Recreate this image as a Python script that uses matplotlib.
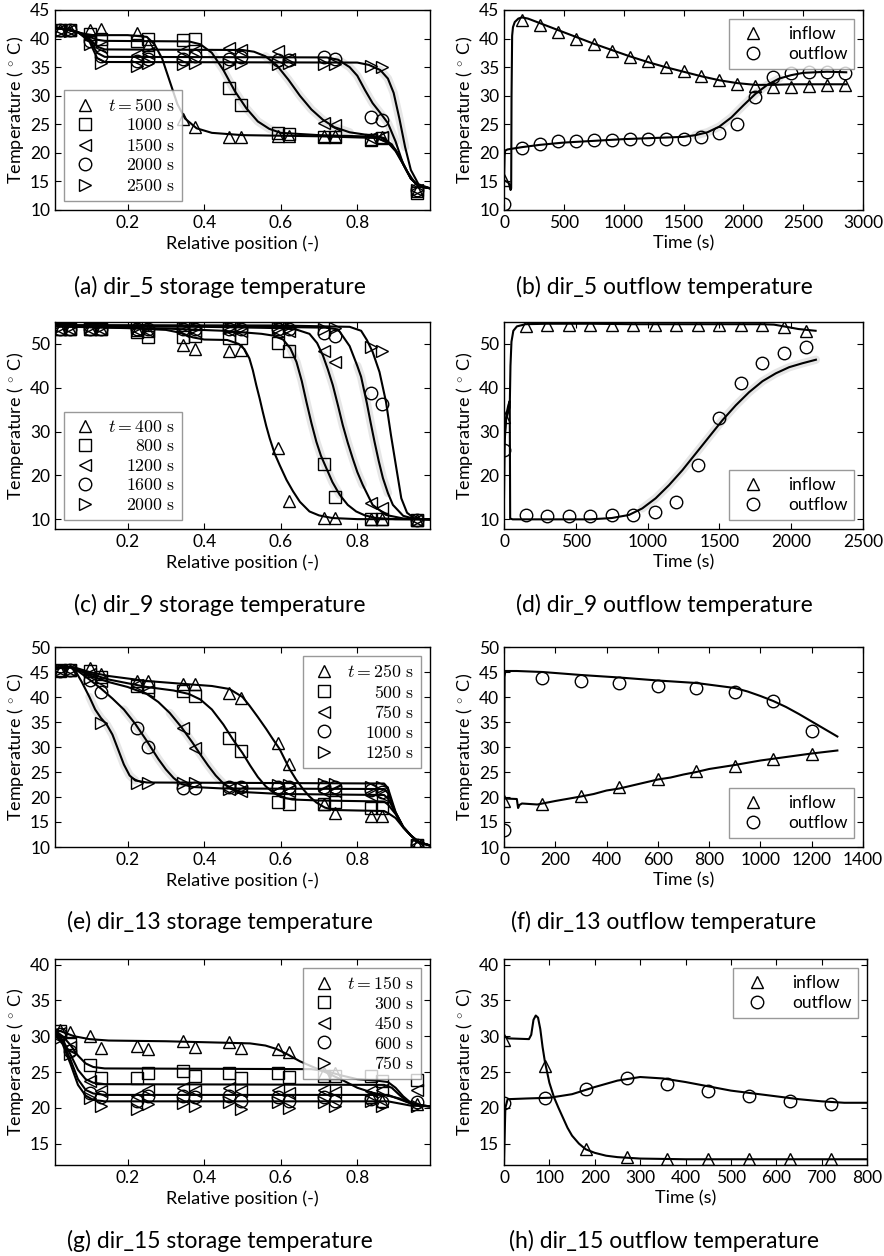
"""
Storage / outflow temperature comparison, 4 test runs (dir_5, dir_9, dir_13, dir_15).
Markers = measurements, black lines = simulation, light grey = uncertainty band.
"""
import matplotlib
matplotlib.use("Agg")
import matplotlib.pyplot as plt

OUT = "out.png"
W_PX, H_PX = 884, 1256

plt.rcParams.update({
    "font.family": ["Lato", "DejaVu Sans"],
    "mathtext.fontset": "cm",
    "font.size": 13,
    "xtick.labelsize": 12.5,
    "ytick.labelsize": 12.5,
    "xtick.direction": "in",
    "ytick.direction": "in",
    "xtick.top": True,
    "ytick.right": True,
    "xtick.major.size": 4,
    "ytick.major.size": 4,
    "axes.linewidth": 1.0,
    "axes.labelpad": 3,
    "legend.fancybox": False,
    "legend.edgecolor": "0.5",
    "legend.framealpha": 0.8,
    "legend.numpoints": 1,
})

MARKERS = ["^", "s", "<", "o", ">"]
YLABEL = r"Temperature ($\,^\circ\,$C)"

# ---------------------------------------------------------------- data
SENSOR_X = [0.022, 0.049, 0.101, 0.131, 0.224, 0.253, 0.344, 0.375, 0.466,
            0.497, 0.592, 0.621, 0.714, 0.743, 0.836, 0.864, 0.957]

# dir_5 storage
A_TIMES = [500, 1000, 1500, 2000, 2500]
A_MEAS = [
    [41.5, 41.5, 41.5, 41.6, 40.9, 38.9, 26.0, 24.6, 22.8, 22.8, 23.0, 23.0, 22.9, 22.9, 22.5, 22.7, 13.3],
    [41.5, 41.5, 40.8, 40.0, 39.5, 40.0, 39.7, 40.0, 31.4, 28.4, 23.5, 23.3, 22.8, 22.8, 22.3, 22.6, 13.0],
    [41.5, 41.5, 40.0, 38.5, 37.2, 37.5, 37.8, 37.8, 38.3, 38.0, 37.9, 36.5, 25.2, 24.8, 22.6, 22.8, 13.5],
    [41.5, 41.5, 39.5, 37.0, 36.0, 36.5, 36.5, 37.0, 36.5, 36.7, 36.3, 36.3, 36.8, 36.5, 26.3, 25.8, 13.5],
    [41.3, 41.3, 39.0, 35.8, 35.2, 35.7, 35.5, 35.7, 35.5, 35.7, 35.6, 35.8, 35.5, 35.6, 35.2, 35.1, 13.5],
]
A_LINE_X = [
    [0.01, 0.04, 0.07, 0.09, 0.11, 0.13, 0.2, 0.25, 0.27, 0.29, 0.31, 0.33, 0.35, 0.38, 0.42, 0.5, 0.7,
     0.85, 0.88, 0.9, 0.92, 0.94, 0.96, 0.99],
    [0.01, 0.04, 0.07, 0.1, 0.12, 0.14, 0.36, 0.39, 0.42, 0.45, 0.48, 0.51, 0.54, 0.57, 0.6, 0.7, 0.86,
     0.89, 0.91, 0.93, 0.95, 0.97, 0.99],
    [0.01, 0.04, 0.07, 0.1, 0.12, 0.14, 0.5, 0.53, 0.56, 0.59, 0.62, 0.65, 0.68, 0.71, 0.74, 0.78, 0.83,
     0.87, 0.9, 0.92, 0.94, 0.96, 0.99],
    [0.01, 0.04, 0.07, 0.1, 0.12, 0.14, 0.72, 0.75, 0.78, 0.8, 0.82, 0.84, 0.86, 0.88, 0.9, 0.92, 0.94,
     0.96, 0.99],
    [0.01, 0.04, 0.07, 0.1, 0.12, 0.14, 0.8, 0.83, 0.86, 0.88, 0.895, 0.91, 0.925, 0.94, 0.96, 0.99],
]
A_LINE_T = [
    [41.9, 41.6, 41.1, 40.8, 40.6, 40.6, 40.6, 40.3, 39.0, 36.5, 32.5, 28.5, 26.0, 24.3, 23.5, 23.1, 22.9,
     22.6, 21.8, 20.3, 18.0, 15.5, 14.2, 13.8],
    [41.9, 41.6, 41.1, 40.3, 39.8, 39.6, 39.5, 39.0, 37.5, 34.5, 30.8, 27.8, 25.5, 24.2, 23.5, 23.1, 22.8,
     21.5, 19.5, 16.8, 14.8, 14.0, 13.8],
    [41.9, 41.6, 41.1, 40.0, 38.6, 38.1, 38.0, 37.7, 36.9, 35.3, 32.8, 30.0, 27.6, 25.8, 24.5, 23.6, 23.1,
     22.6, 20.5, 18.0, 15.5, 14.2, 13.8],
    [41.9, 41.6, 41.1, 39.8, 37.5, 36.8, 36.7, 36.3, 35.0, 33.5, 31.0, 28.7, 27.0, 25.2, 22.0, 18.0, 15.5,
     14.2, 13.8],
    [41.9, 41.6, 41.1, 39.5, 36.6, 35.9, 35.8, 35.4, 34.5, 33.0, 30.5, 26.0, 21.0, 17.0, 14.5, 13.8],
]
A_BAND = [None, (0.42, 0.6), (0.56, 0.8), (0.74, 0.9), (0.85, 0.93)]

# dir_9 storage
C_TIMES = [400, 800, 1200, 1600, 2000]
C_MEAS = [
    [53.5, 53.5, 53.5, 53.5, 53.2, 53.0, 49.8, 48.9, 48.5, 48.7, 26.2, 14.1, 10.3, 10.3, 10.0, 10.0, 9.8],
    [53.3, 53.3, 53.3, 53.3, 52.8, 51.6, 51.6, 51.8, 51.3, 51.3, 50.1, 48.4, 22.6, 15.2, 10.0, 10.0, 9.8],
    [53.5, 53.5, 53.5, 53.5, 53.2, 53.0, 53.0, 53.0, 53.2, 53.0, 53.0, 52.9, 48.3, 45.9, 13.7, 12.6, 9.8],
    [53.5, 53.5, 53.5, 53.5, 53.5, 53.5, 53.3, 53.3, 53.5, 53.5, 53.3, 53.3, 52.4, 51.8, 38.7, 36.4, 9.8],
    [53.8, 53.8, 53.8, 53.8, 53.8, 53.8, 53.6, 53.6, 53.6, 53.6, 53.6, 53.6, 53.5, 53.6, 49.3, 48.4, 9.8],
]
C_LINE_X = [
    [0.01, 0.2, 0.3, 0.34, 0.37, 0.4, 0.46, 0.49, 0.505, 0.518, 0.527, 0.536, 0.545, 0.553, 0.562, 0.571,
     0.584, 0.597, 0.615, 0.632, 0.65, 0.675, 0.7, 0.735, 0.8, 0.99],
    [0.01, 0.3, 0.45, 0.55, 0.58, 0.606, 0.625, 0.641, 0.655, 0.667, 0.68, 0.693, 0.705, 0.719, 0.735,
     0.754, 0.775, 0.797, 0.82, 0.849, 0.9, 0.99],
    [0.01, 0.4, 0.6, 0.64, 0.675, 0.695, 0.71, 0.723, 0.736, 0.75, 0.762, 0.775, 0.788, 0.8, 0.814,
     0.84, 0.875, 0.92, 0.99],
    [0.01, 0.5, 0.72, 0.75, 0.78, 0.8, 0.81, 0.825, 0.835, 0.845, 0.856, 0.867, 0.88, 0.893, 0.92,
     0.95, 0.99],
    [0.01, 0.6, 0.78, 0.81, 0.825, 0.84, 0.858, 0.875, 0.888, 0.902, 0.915, 0.93, 0.95, 0.99],
]
C_LINE_T = [
    [54.0, 53.6, 53.2, 52.5, 51.5, 51.0, 50.9, 50.0, 48.8, 46.7, 44.0, 40.6, 37.5, 34.5, 31.3, 28.5,
     25.0, 22.4, 19.0, 16.4, 14.0, 11.8, 10.9, 10.3, 10.05, 10.0],
    [54.0, 53.5, 53.0, 52.3, 51.9, 51.0, 49.0, 45.9, 41.5, 36.8, 32.0, 27.7, 24.5, 21.7, 18.5,
     15.6, 13.3, 11.8, 10.9, 10.3, 10.05, 10.0],
    [54.1, 53.9, 53.6, 53.3, 52.3, 50.2, 47.4, 44.2, 40.6, 35.8, 31.5, 27.5, 23.9, 20.8, 17.9,
     13.3, 11.0, 10.2, 10.0],
    [54.2, 54.0, 53.7, 53.3, 49.5, 45.0, 42.5, 36.5, 32.0, 27.7, 23.3, 19.4, 16.0, 13.3, 10.8,
     10.1, 10.0],
    [54.3, 54.2, 53.9, 53.0, 50.9, 48.2, 43.6, 36.8, 29.2, 21.7, 14.8, 11.5, 10.2, 10.0],
]
C_BAND = [None, (0.62, 0.76), (0.7, 0.83), (0.79, 0.88), None]

# dir_13 storage
E_TIMES = [250, 500, 750, 1000, 1250]
E_MEAS = [
    [45.3, 45.5, 45.9, 44.6, 43.3, 43.3, 42.6, 42.6, 40.9, 39.9, 30.9, 26.6, 18.6, 16.8, 16.3, 16.3, 10.5],
    [45.5, 45.5, 45.3, 44.0, 42.3, 42.0, 41.3, 40.3, 31.9, 29.3, 19.1, 18.6, 18.6, 19.0, 17.8, 17.8, 10.5],
    [45.5, 45.5, 44.6, 43.3, 42.5, 41.3, 33.9, 29.9, 21.6, 21.3, 21.3, 21.3, 21.3, 21.3, 20.5, 20.5, 10.5],
    [45.3, 45.5, 43.5, 41.0, 33.9, 30.1, 21.8, 21.8, 22.0, 22.0, 22.0, 22.0, 22.0, 22.0, 21.5, 21.0, 10.5],
    [45.5, 45.5, 43.8, 34.9, 22.9, 22.9, 22.9, 22.9, 21.7, 21.8, 22.4, 22.4, 22.6, 22.7, 22.0, 22.0, 10.5],
]
E_LINE_X = [
    [0.01, 0.05, 0.07, 0.1, 0.15, 0.25, 0.35, 0.42, 0.466, 0.5, 0.518, 0.54, 0.562, 0.58, 0.597, 0.61,
     0.623, 0.64, 0.658, 0.675, 0.693, 0.715, 0.736, 0.8, 0.87, 0.88, 0.9, 0.92, 0.94, 0.96, 0.99],
    [0.01, 0.05, 0.07, 0.1, 0.15, 0.25, 0.32, 0.36, 0.39, 0.42, 0.45, 0.475, 0.5, 0.52, 0.54, 0.56,
     0.58, 0.6, 0.63, 0.7, 0.87, 0.88, 0.9, 0.92, 0.94, 0.96, 0.99],
    [0.01, 0.05, 0.07, 0.1, 0.15, 0.2, 0.25, 0.28, 0.31, 0.34, 0.37, 0.39, 0.41, 0.43, 0.45, 0.47,
     0.5, 0.6, 0.87, 0.88, 0.9, 0.92, 0.94, 0.96, 0.99],
    [0.01, 0.05, 0.07, 0.1, 0.13, 0.16, 0.19, 0.22, 0.25, 0.28, 0.3, 0.32, 0.34, 0.37, 0.45, 0.87,
     0.88, 0.9, 0.92, 0.94, 0.96, 0.99],
    [0.01, 0.05, 0.065, 0.08, 0.1, 0.115, 0.13, 0.145, 0.16, 0.175, 0.19, 0.205, 0.22, 0.25, 0.87,
     0.88, 0.9, 0.92, 0.94, 0.96, 0.99],
]
E_LINE_T = [
    [45.7, 46.0, 45.7, 45.0, 44.2, 43.2, 42.6, 42.2, 41.6, 40.0, 38.3, 36.0, 33.6, 31.5, 29.6, 27.6,
     25.6, 23.5, 21.6, 20.1, 18.9, 17.9, 17.4, 17.3, 17.2, 16.8, 15.8, 13.9, 12.3, 11.0, 10.3],
    [45.7, 46.0, 45.6, 44.7, 43.5, 42.0, 41.3, 40.6, 39.5, 37.5, 34.5, 31.5, 28.8, 26.3, 24.0, 22.2,
     20.9, 20.0, 19.5, 19.3, 19.1, 18.5, 16.6, 14.0, 12.3, 11.0, 10.3],
    [45.7, 46.0, 45.4, 44.3, 43.0, 42.0, 40.6, 39.0, 36.8, 34.0, 30.8, 28.5, 26.3, 24.3, 22.7, 21.6,
     21.0, 20.6, 20.4, 19.7, 16.8, 14.0, 12.3, 11.0, 10.3],
    [45.7, 46.0, 45.2, 43.5, 41.7, 39.7, 37.5, 34.6, 31.2, 27.6, 25.5, 23.8, 22.6, 22.0, 21.7, 21.6,
     20.8, 16.9, 14.0, 12.3, 11.0, 10.3],
    [45.7, 46.0, 45.0, 43.0, 40.0, 37.5, 35.8, 34.5, 32.5, 29.5, 26.5, 24.3, 23.3, 22.9, 22.7,
     21.8, 17.0, 14.0, 12.3, 11.0, 10.3],
]
E_BAND = [None, None, (0.3, 0.46), (0.18, 0.34), (0.1, 0.22)]

# dir_15 storage
G_TIMES = [150, 300, 450, 600, 750]
G_MEAS = [
    [30.9, 30.6, 30.0, 28.4, 28.7, 28.2, 29.4, 28.5, 29.2, 28.4, 28.2, 27.8, 24.8, 24.8, 21.5, 21.0, 20.5],
    [30.8, 29.0, 26.0, 24.1, 24.1, 24.8, 25.1, 24.4, 24.9, 24.2, 24.9, 24.3, 24.5, 24.4, 24.4, 23.7, 23.9],
    [30.5, 28.5, 23.8, 22.3, 21.7, 22.5, 22.8, 22.3, 22.8, 22.3, 22.5, 22.0, 22.5, 22.2, 22.3, 22.5, 22.5],
    [30.3, 28.0, 22.0, 21.5, 21.0, 21.7, 21.7, 21.5, 21.7, 21.0, 21.5, 21.0, 21.5, 21.0, 21.2, 20.8, 20.8],
    [29.8, 27.5, 21.3, 20.2, 19.8, 20.5, 20.7, 20.2, 20.8, 19.8, 20.8, 20.0, 20.8, 20.2, 21.0, 20.2, 20.3],
]
G_LINE_X = [
    [0.01, 0.03, 0.06, 0.1, 0.15, 0.3, 0.45, 0.52, 0.56, 0.59, 0.62, 0.65, 0.68, 0.72, 0.76, 0.8,
     0.84, 0.88, 0.91, 0.94, 0.97, 0.99],
    [0.01, 0.03, 0.05, 0.07, 0.09, 0.11, 0.14, 0.68, 0.72, 0.76, 0.8, 0.85, 0.88, 0.9, 0.92, 0.94,
     0.97, 0.99],
    [0.01, 0.03, 0.05, 0.07, 0.09, 0.11, 0.14, 0.87, 0.89, 0.91, 0.93, 0.96, 0.99],
    [0.01, 0.03, 0.05, 0.07, 0.09, 0.11, 0.14, 0.88, 0.91, 0.94, 0.97, 0.99],
    [0.01, 0.03, 0.05, 0.07, 0.09, 0.11, 0.14, 0.88, 0.91, 0.94, 0.99],
]
G_LINE_T = [
    [31.0, 30.6, 30.0, 29.6, 29.4, 29.3, 29.1, 29.0, 28.7, 28.2, 27.4, 26.5, 25.8, 24.9, 23.9, 22.8,
     22.1, 21.7, 21.3, 20.6, 20.3, 20.2],
    [30.8, 30.0, 28.8, 27.3, 26.2, 25.7, 25.5, 25.4, 25.1, 24.5, 24.0, 23.8, 23.6, 22.8, 21.6, 20.7,
     20.3, 20.2],
    [30.6, 29.5, 27.5, 25.3, 24.0, 23.5, 23.3, 23.2, 22.8, 21.8, 20.9, 20.4, 20.2],
    [30.4, 29.2, 26.8, 24.0, 22.5, 22.0, 21.8, 21.8, 21.2, 20.6, 20.3, 20.2],
    [30.2, 28.9, 26.2, 23.2, 21.7, 21.1, 20.9, 20.9, 20.6, 20.3, 20.2],
]
G_BAND = [None, None, None, None, None]

# dir_5 outflow
B_MEAS_T = [0, 150, 300, 450, 600, 750, 900, 1050, 1200, 1350, 1500, 1650, 1800, 1950, 2100,
            2250, 2400, 2550, 2700, 2850]
B_IN_MEAS = [15.2, 43.3, 42.4, 41.1, 40.0, 39.0, 37.8, 36.8, 36.1, 35.1, 34.3, 33.4, 32.7, 32.0,
             31.7, 31.5, 31.5, 31.7, 31.9, 31.9]
B_OUT_MEAS = [11.0, 20.8, 21.5, 22.0, 22.1, 22.2, 22.2, 22.4, 22.4, 22.5, 22.5, 22.8, 23.4, 25.0,
              29.7, 33.2, 34.0, 34.2, 34.2, 34.0]
B_IN_LINE_T = [0, 20, 40, 55, 60, 63, 68, 75, 90, 120, 150, 200, 300, 450, 600, 750, 900, 1050, 1200,
               1350, 1500, 1650, 1800, 1950, 2100, 2250, 2400, 2550, 2700, 2860]
B_IN_LINE = [15.2, 15.0, 14.7, 13.5, 13.8, 30.0, 40.5, 42.0, 42.9, 43.5, 43.7, 43.5, 42.7, 41.5, 40.3,
             39.1, 38.0, 36.9, 35.9, 35.0, 34.2, 33.4, 32.7, 32.2, 31.9, 31.9, 32.0, 32.0, 32.0, 32.0]
B_OUT_LINE_T = [0, 5, 10, 30, 150, 300, 500, 750, 1000, 1250, 1500, 1600, 1700, 1800, 1900, 2000,
                2100, 2200, 2300, 2400, 2500, 2600, 2700, 2860]
B_OUT_LINE = [15.0, 19.5, 20.4, 20.6, 21.0, 21.4, 21.8, 22.1, 22.4, 22.6, 22.8, 23.1, 23.6, 24.6,
              26.2, 28.3, 30.3, 31.9, 33.0, 33.6, 34.0, 34.1, 34.2, 34.1]
B_BAND = (1600, 2350)

# dir_9 outflow
D_MEAS_T = [0, 150, 300, 450, 600, 750, 900, 1050, 1200, 1350, 1500, 1650, 1800, 1950, 2100]
D_IN_MEAS = [33.3, 54.2, 54.3, 54.3, 54.3, 54.3, 54.3, 54.3, 54.3, 54.3, 54.3, 54.3, 54.3, 53.8, 53.0]
D_OUT_MEAS = [25.8, 11.0, 10.8, 10.8, 10.8, 11.0, 11.1, 11.7, 14.0, 22.3, 33.0, 41.1, 45.7, 48.0, 49.4]
D_IN_LINE_T = [0, 5, 15, 30, 40, 45, 52, 65, 90, 150, 300, 600, 900, 1200, 1500, 1800, 1880, 1950,
               2050, 2170]
D_IN_LINE = [15.0, 28.0, 33.0, 34.5, 35.5, 45.0, 50.5, 53.0, 54.0, 54.5, 54.6, 54.6, 54.5, 54.5, 54.5,
             54.5, 54.4, 54.0, 53.4, 53.0]
D_OUT_LINE_T = [0, 10, 20, 30, 40, 43, 60, 300, 600, 750, 870, 963, 1056, 1149, 1242, 1335, 1428,
                1521, 1614, 1707, 1800, 1893, 1986, 2079, 2172]
D_OUT_LINE = [26.0, 32.0, 34.5, 36.0, 37.0, 10.2, 10.0, 10.0, 10.0, 10.3, 11.0, 12.5, 14.8, 17.8,
              21.2, 25.0, 28.8, 32.6, 36.0, 39.0, 41.5, 43.3, 44.7, 45.6, 46.4]
D_BAND = (950, 2180)

# dir_13 outflow
F_MEAS_T = [0, 150, 300, 450, 600, 750, 900, 1050, 1200]
F_IN_MEAS = [19.3, 18.7, 20.3, 22.0, 23.7, 25.2, 26.3, 27.7, 28.7]
F_OUT_MEAS = [13.5, 43.8, 43.3, 42.8, 42.2, 41.8, 41.1, 39.2, 33.3]
F_IN_LINE_T = [0, 50, 55, 60, 70, 100, 130, 150, 200, 300, 350, 400, 450, 500, 600, 650, 700, 750,
               800, 900, 1000, 1100, 1200, 1300]
F_IN_LINE = [19.7, 19.6, 17.8, 18.4, 18.7, 18.6, 18.5, 18.7, 19.2, 20.1, 20.6, 21.3, 21.7, 22.3, 23.5,
             23.9, 24.5, 25.0, 25.6, 26.4, 27.3, 28.0, 28.7, 29.3]
F_OUT_LINE_T = [0, 2, 5, 50, 150, 300, 450, 600, 750, 900, 950, 1000, 1050, 1100, 1150, 1200, 1250, 1300]
F_OUT_LINE = [19.7, 44.0, 45.2, 45.2, 45.0, 44.4, 43.9, 43.3, 42.8, 41.8, 41.1, 40.2, 39.2, 38.0, 36.6,
              35.1, 33.6, 32.1]
F_BAND = None

# dir_15 outflow
H_MEAS_T = [0, 90, 180, 270, 360, 450, 540, 630, 720]
H_IN_MEAS = [29.5, 25.8, 14.3, 13.1, 12.8, 12.8, 12.8, 12.8, 12.8]
H_OUT_MEAS = [20.7, 21.3, 22.6, 24.1, 23.3, 22.4, 21.6, 20.9, 20.5]
H_IN_LINE_T = [0, 10, 55, 60, 65, 70, 75, 80, 85, 90, 100, 110, 120, 130, 140, 150, 165, 180, 200,
               225, 250, 300, 400, 500, 600, 700, 800]
H_IN_LINE = [30.0, 29.7, 29.6, 30.2, 32.3, 32.9, 32.6, 31.0, 28.5, 26.5, 23.5, 21.5, 20.0, 18.6, 17.2,
             16.1, 15.0, 14.2, 13.7, 13.3, 13.1, 12.9, 12.8, 12.8, 12.8, 12.8, 12.8]
H_OUT_LINE_T = [0, 3, 8, 50, 100, 150, 200, 250, 300, 350, 400, 450, 500, 550, 600, 650, 700, 750, 800]
H_OUT_LINE = [12.5, 20.0, 21.2, 21.3, 21.4, 21.9, 22.9, 23.8, 24.3, 24.1, 23.6, 23.0, 22.4, 22.0, 21.6,
              21.2, 20.9, 20.7, 20.7]
H_BAND = None


# ---------------------------------------------------------------- helpers
def add_axes_px(fig, left, top, right, bottom):
    return fig.add_axes([left / W_PX, 1 - bottom / H_PX,
                         (right - left) / W_PX, (bottom - top) / H_PX])


def draw_band(ax, xs, ys, band):
    if band is None:
        return
    pts = [(x, y) for x, y in zip(xs, ys) if band[0] <= x <= band[1]]
    if pts:
        ax.plot([p[0] for p in pts], [p[1] for p in pts], color="0.9", lw=6,
                solid_capstyle="round", zorder=1)


def right_align_legend(fig, leg):
    # legend text is packed left-aligned; shift each label so they end flush right
    r = fig.canvas.get_renderer()
    texts = leg.get_texts()
    widths = [t.get_window_extent(r).width for t in texts]
    for t, w in zip(texts, widths):
        t.set_position((max(widths) - w, 0))


def storage_panel(ax, times, meas, line_x, line_t, bands, ylim, yticks, loc):
    for xs, ys, band in zip(line_x, line_t, bands):
        draw_band(ax, xs, ys, band)
    for xs, ys in zip(line_x, line_t):
        ax.plot(xs, ys, color="k", lw=1.5, zorder=2)
    handles = []
    for m, vals in zip(MARKERS, meas):
        h, = ax.plot(SENSOR_X, vals, ls="none", marker=m, ms=9, mfc="none",
                     mec="k", mew=1.0, zorder=3)
        handles.append(h)
    labels = [r"$t = %d\ \mathrm{s}$" % times[0]] + [r"$%d\ \mathrm{s}$" % t for t in times[1:]]
    leg = ax.legend(handles, labels, loc=loc, handletextpad=0.5, labelspacing=0.2,
                    borderpad=0.4, handlelength=1.6, fontsize=12.8)
    leg.set_zorder(5)
    ax.set_xlim(0.01, 0.99)
    ax.set_xticks([0.2, 0.4, 0.6, 0.8])
    ax.set_ylim(*ylim)
    ax.set_yticks(yticks)
    ax.set_xlabel("Relative position (-)")
    ax.set_ylabel(YLABEL)
    return leg


def flow_panel(ax, meas_t, in_meas, out_meas, in_t, in_line, out_t, out_line, band,
               xlim, xticks, ylim, yticks, loc):
    if band is not None:
        draw_band(ax, out_t, out_line, band)
    ax.plot(in_t, in_line, color="k", lw=1.5, zorder=2)
    ax.plot(out_t, out_line, color="k", lw=1.5, zorder=2)
    h1, = ax.plot(meas_t, in_meas, ls="none", marker="^", ms=9, mfc="none", mec="k", mew=1.0, zorder=3)
    h2, = ax.plot(meas_t, out_meas, ls="none", marker="o", ms=9, mfc="none", mec="k", mew=1.0, zorder=3)
    ax.legend([h1, h2], ["inflow", "outflow"], loc=loc, handletextpad=1.0,
              labelspacing=0.25, borderpad=0.4, fontsize=12.5)
    ax.set_xlim(*xlim)
    ax.set_xticks(xticks)
    ax.set_ylim(*ylim)
    ax.set_yticks(yticks)
    ax.set_xlabel("Time (s)")
    ax.set_ylabel(YLABEL)


def main():
    fig = plt.figure(figsize=(W_PX / 100, H_PX / 100), dpi=100)

    ax_a = add_axes_px(fig, 55, 10, 430, 210)
    ax_b = add_axes_px(fig, 504, 10, 863, 210)
    ax_c = add_axes_px(fig, 55, 322, 430, 529)
    ax_d = add_axes_px(fig, 504, 322, 863, 529)
    ax_e = add_axes_px(fig, 55, 647, 430, 847)
    ax_f = add_axes_px(fig, 504, 647, 863, 847)
    ax_g = add_axes_px(fig, 55, 959, 430, 1165)
    ax_h = add_axes_px(fig, 504, 959, 867, 1165)

    legs = [
        storage_panel(ax_a, A_TIMES, A_MEAS, A_LINE_X, A_LINE_T, A_BAND,
                      (10, 45), range(10, 46, 5), "lower left"),
        storage_panel(ax_c, C_TIMES, C_MEAS, C_LINE_X, C_LINE_T, C_BAND,
                      (7.8, 55), range(10, 51, 10), "lower left"),
        storage_panel(ax_e, E_TIMES, E_MEAS, E_LINE_X, E_LINE_T, E_BAND,
                      (10, 50), range(10, 51, 5), "upper right"),
        storage_panel(ax_g, G_TIMES, G_MEAS, G_LINE_X, G_LINE_T, G_BAND,
                      (12, 40.8), range(15, 41, 5), "upper right"),
    ]

    flow_panel(ax_b, B_MEAS_T, B_IN_MEAS, B_OUT_MEAS, B_IN_LINE_T, B_IN_LINE,
               B_OUT_LINE_T, B_OUT_LINE, B_BAND, (0, 3000), range(0, 3001, 500),
               (10, 45), range(10, 46, 5), "upper right")
    flow_panel(ax_d, D_MEAS_T, D_IN_MEAS, D_OUT_MEAS, D_IN_LINE_T, D_IN_LINE,
               D_OUT_LINE_T, D_OUT_LINE, D_BAND, (0, 2500), range(0, 2501, 500),
               (7.8, 55), range(10, 51, 10), "lower right")
    flow_panel(ax_f, F_MEAS_T, F_IN_MEAS, F_OUT_MEAS, F_IN_LINE_T, F_IN_LINE,
               F_OUT_LINE_T, F_OUT_LINE, F_BAND, (0, 1400), range(0, 1401, 200),
               (10, 50), range(10, 51, 5), "lower right")
    flow_panel(ax_h, H_MEAS_T, H_IN_MEAS, H_OUT_MEAS, H_IN_LINE_T, H_IN_LINE,
               H_OUT_LINE_T, H_OUT_LINE, H_BAND, (0, 800), range(0, 801, 100),
               (12, 40.8), range(15, 41, 5), "upper right")

    fig.canvas.draw()
    for leg in legs:
        right_align_legend(fig, leg)

    captions = [
        (220, 287, "(a) dir_5 storage temperature"),
        (664, 287, "(b) dir_5 outflow temperature"),
        (220, 605, "(c) dir_9 storage temperature"),
        (664, 605, "(d) dir_9 outflow temperature"),
        (220, 922, "(e) dir_13 storage temperature"),
        (664, 922, "(f) dir_13 outflow temperature"),
        (220, 1241, "(g) dir_15 storage temperature"),
        (664, 1241, "(h) dir_15 outflow temperature"),
    ]
    for x, y, s in captions:
        fig.text(x / W_PX, 1 - y / H_PX, s, ha="center", va="center", fontsize=16.5)

    fig.savefig(OUT, dpi=100)
    plt.close(fig)


if __name__ == "__main__":
    main()
